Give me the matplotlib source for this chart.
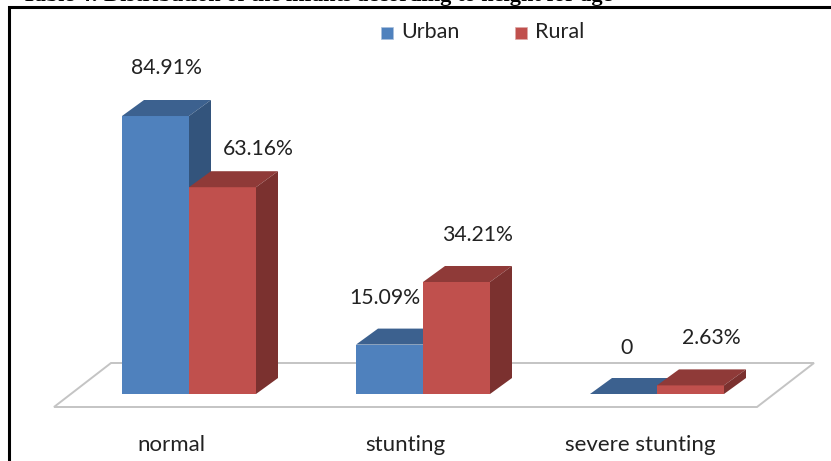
import matplotlib
matplotlib.use('Agg')
import matplotlib.pyplot as plt
from matplotlib.patches import Polygon, Rectangle

# Data
categories = ['normal', 'stunting', 'severe stunting']
urban = [84.91, 15.09, 0]
rural = [63.16, 34.21, 2.63]
urban_labels = ['84.91%', '15.09%', '0']
rural_labels = ['63.16%', '34.21%', '2.63%']

# Chart geometry, in pixels of the 831x461 canvas
W, H = 831, 461
BASE = 394          # pixel row of value 0
PX_PER_UNIT = 3.274
BAR_W = 67
DEPTH_X, DEPTH_Y = 22, 16
group_left = [122, 356, 590]
category_x = [171, 405, 640]
urban_label_pos = [(166, 68), (385, 298), (627, 348)]
rural_label_pos = [(258, 149), (477, 235), (711, 338)]

BLUE = ('#4F81BD', '#3C618F', '#33547C')
RED = ('#C0504D', '#8F3A38', '#7B312F')
TEXT = '#222222'

plt.rcParams['font.family'] = ['Lato', 'DejaVu Sans']


def val(py):
    # pixel row -> value units on the y axis
    return (BASE - py) / PX_PER_UNIT


def draw_bar(ax, left, value, colors):
    front, top, side = colors
    dy = DEPTH_Y / PX_PER_UNIT
    right = left + BAR_W
    if value > 0:
        ax.add_patch(Rectangle((left, 0), BAR_W, value, fc=front, ec='none', zorder=3))
    ax.add_patch(Polygon([(left, value), (right, value),
                          (right + DEPTH_X, value + dy), (left + DEPTH_X, value + dy)],
                         fc=top, ec='none', zorder=3))
    ax.add_patch(Polygon([(right, 0), (right + DEPTH_X, dy),
                          (right + DEPTH_X, value + dy), (right, value)],
                         fc=side, ec='none', zorder=3))


fig = plt.figure(figsize=(W / 100, H / 100), dpi=100)
ax = fig.add_axes([0, 0, 1, 1])
ax.set_xlim(0, W)
ax.set_ylim(val(H), val(0))
ax.axis('off')

# Floor of the 3D plot area
floor = [(54, 407), (757, 407), (814, 363), (111, 363)]
ax.add_patch(Polygon([(x, val(y)) for x, y in floor], closed=True,
                     fc='white', ec='#C4C4C4', lw=1.4, zorder=1))

for i, left in enumerate(group_left):
    draw_bar(ax, left, urban[i], BLUE)
    draw_bar(ax, left + BAR_W, rural[i], RED)
    ax.text(category_x[i], val(445), categories[i],
            ha='center', va='center', fontsize=16, color=TEXT)
    x, y = urban_label_pos[i]
    ax.text(x, val(y), urban_labels[i], ha='center', va='center', fontsize=15.3, color=TEXT, zorder=4)
    x, y = rural_label_pos[i]
    ax.text(x, val(y), rural_labels[i], ha='center', va='center', fontsize=15.3, color=TEXT, zorder=4)

# Legend
ax.add_patch(Rectangle((381, val(39)), 12, 12 / PX_PER_UNIT, fc=BLUE[0], ec='#A9C0DC', lw=0.5))
ax.text(401, val(32), 'Urban', ha='left', va='center', fontsize=15.5, color=TEXT)
ax.add_patch(Rectangle((515, val(39)), 12, 12 / PX_PER_UNIT, fc=RED[0], ec='#DDA9A7', lw=0.5))
ax.text(535, val(32), 'Rural', ha='left', va='center', fontsize=15.5, color=TEXT)

# Frame around the chart, open on the right and bottom
ax.plot([9, 9, W], [val(H), val(7), val(7)], color='black', lw=2.2,
        solid_joinstyle='miter', solid_capstyle='butt', zorder=5)

# Caption above the frame, cut off by the top edge
ax.text(612, val(1), 'Table 4: Distribution of the infants according to height for age',
        ha='right', va='baseline', fontsize=16, fontweight='bold',
        family='Liberation Serif', color='black', zorder=6)

plt.savefig('out.png', dpi=100)
plt.close()
